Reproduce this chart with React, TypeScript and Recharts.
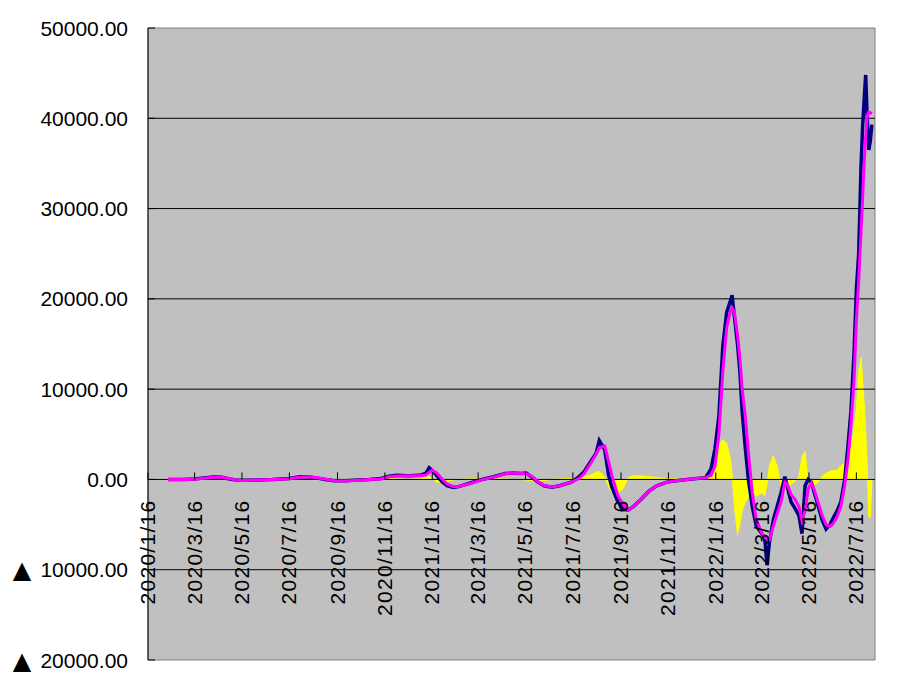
import React from 'react';
import { ComposedChart, Line, Area, XAxis, YAxis, ReferenceLine, ReferenceArea } from 'recharts';

// day offsets since 2020/1/16
const DAYS = [
  26, 45, 60, 75, 86, 95, 105, 115, 125, 140, 160, 182, 195, 205, 215, 228, 240, 255, 270, 285,
  300, 310, 320, 335, 350, 358, 362, 366, 372, 378, 385, 393, 400, 415, 430, 445, 460, 470, 480, 487,
  495, 502, 510, 520, 530, 545, 555, 562, 570, 577, 581, 588, 593, 597, 605, 612, 618, 625, 635, 645,
  655, 668, 685, 700, 718, 725, 730, 735, 740, 745, 750, 752, 755, 759, 762, 765, 769, 773, 778, 783,
  790, 794, 797, 800, 805, 810, 815, 820, 823, 828, 833, 838, 842, 846, 850, 854, 858, 863, 868, 873,
  878, 882, 887, 892, 897, 901, 905, 909, 912, 915, 918, 920, 922, 924, 926, 928, 930, 932,
];

const NAVY = [
  0, 0, 50, 200, 300, 250, 50, -100, -100, -50, 0, 100, 300, 300, 200, 0, -150, -150, -50, 0,
  100, 350, 450, 400, 450, 700, 1300, 1000, 400, -200, -700, -900, -800, -400, 0, 300, 650, 700, 650, 700,
  200, -300, -700, -850, -700, -300, 300, 900, 2000, 2900, 4300, 3300, 500, -800, -2500, -3300, -3400, -3000, -2200, -1300,
  -700, -300, -100, 50, 200, 1200, 3400, 7000, 14700, 18500, 19800, 20400, 18000, 15000, 12000, 7500, 3500, 0, -3000, -5100,
  -6000, -6500, -9500, -7000, -4500, -3000, -1500, 300, -800, -2500, -3200, -4000, -6000, -700, 0, -300, -1500, -3000, -4500, -5500,
  -5000, -4300, -3500, -2500, 0, 3500, 7500, 14000, 21000, 25000, 34600, 39000, 42000, 44800, 40000, 36500, 37500, 39300,
];

const MAGENTA = [
  0, 0, 30, 150, 280, 250, 100, -80, -120, -50, 0, 80, 250, 300, 220, 50, -150, -170, -80, 0,
  50, 300, 380, 400, 420, 500, 800, 1030, 700, 100, -500, -800, -780, -450, -50, 250, 620, 720, 660, 620,
  300, -250, -650, -830, -700, -300, 100, 700, 1800, 2800, 3500, 3700, 2000, 500, -1800, -2800, -3400, -3000, -2200, -1300,
  -700, -300, -100, 50, 200, 450, 1500, 5000, 11800, 16800, 18700, 19000, 18500, 16000, 13500, 10000, 7000, 3000, -1500, -4400,
  -5900, -6400, -6600, -6700, -5200, -3800, -2500, -300, -500, -1700, -2200, -3000, -4600, -3500, -1000, -400, -1200, -2600, -4000, -5000,
  -5200, -4900, -4200, -3000, -700, 2000, 6000, 11000, 17500, 22000, 27300, 31000, 35000, 38000, 40300, 40700, 40600, 40500,
];

const YELLOW = [
  0, 0, 0, 30, 50, 0, -30, -30, 0, 0, 0, 30, 50, 30, 0, -30, -30, 0, 0, 0,
  50, 100, 50, 0, 50, 200, 300, 100, -300, -350, -200, -50, 0, 50, 50, 50, 50, 0, 0, -50,
  -150, -200, -100, 0, 50, 100, 150, 300, 500, 800, 900, 300, -800, -1400, -1600, -1000, 200, 400, 400, 300,
  200, 100, 50, 0, 0, 500, 1500, 3800, 4400, 4000, 2300, 500, -3000, -6100, -5000, -3500, -2500, -2000, -1100, -1850,
  -1500, -1800, -500, 1500, 2600, 1500, -800, -1400, -1000, -500, -200, 300, 2500, 3100, -300, -500, -600, -300, 300, 700,
  900, 1000, 1000, 1500, 1800, 2000, 3500, 5500, 7700, 12000, 13500, 11000, 8500, 5500, 1500, -4200, -4200, 0,
];

const TICK_LABELS = [
  '2020/1/16', '2020/3/16', '2020/5/16', '2020/7/16', '2020/9/16', '2020/11/16',
  '2021/1/16', '2021/3/16', '2021/5/16', '2021/7/16', '2021/9/16', '2021/11/16',
  '2022/1/16', '2022/3/16', '2022/5/16', '2022/7/16',
];

const Y_TICKS = [-20000, -10000, 0, 10000, 20000, 30000, 40000, 50000];
const GRID_VALUES = [-10000, 10000, 20000, 30000, 40000];
const Y_MIN = -20000;
const Y_MAX = 50000;
const X_MAX = 936;

const START = Date.UTC(2020, 0, 16);
const toDay = (s: string) => {
  const [y, m, d] = s.split('/').map(Number);
  return Math.round((Date.UTC(y, m - 1, d) - START) / 86400000);
};
const TICK_DAYS = TICK_LABELS.map(toDay);

const DATA = DAYS.map((day, i) => ({ day, navy: NAVY[i], magenta: MAGENTA[i], yellow: YELLOW[i] }));

const W = 903;
const H = 692;
const MARGIN = { top: 28, right: 28, bottom: 31, left: 0 };
const YAXIS_W = 148;
const XAXIS_H = 1;
const PLOT_TOP = MARGIN.top;
const PLOT_BOTTOM = H - MARGIN.bottom - XAXIS_H;
const ZERO_Y = PLOT_TOP + ((PLOT_BOTTOM - PLOT_TOP) * (Y_MAX - 0)) / (Y_MAX - Y_MIN);

const FONT = '"Liberation Sans", Arial, sans-serif';

const XTick = (props: any) => {
  const { x, payload } = props;
  const idx = TICK_DAYS.indexOf(payload.value);
  const label = idx >= 0 ? TICK_LABELS[idx] : '';
  return (
    <g>
      <line x1={x} x2={x} y1={ZERO_Y} y2={ZERO_Y - 7} stroke="#000" strokeWidth={1} />
      <text
        transform={`translate(${x + 7},${ZERO_Y + 20}) rotate(-90)`}
        textAnchor="end"
        fontFamily={FONT}
        fontSize={21}
        letterSpacing={1.3}
        fill="#000"
      >
        {label}
      </text>
    </g>
  );
};

const YTick = (props: any) => {
  const { y, payload } = props;
  const v = payload.value as number;
  return (
    <g>
      <line x1={YAXIS_W} x2={YAXIS_W + 7} y1={y} y2={y} stroke="#000" strokeWidth={1} />
      {v < 0 && (
        <text
          x={YAXIS_W - 126}
          y={y}
          dy="0.36em"
          textAnchor="middle"
          fontFamily='"DejaVu Sans", sans-serif'
          fontSize={24}
          fill="#000"
        >
          ▲
        </text>
      )}
      <text
        x={YAXIS_W - 20}
        y={y}
        dy="0.36em"
        textAnchor="end"
        fontFamily={FONT}
        fontSize={21}
        fill="#000"
      >
        {Math.abs(v).toFixed(2)}
      </text>
    </g>
  );
};

export default function App() {
  return (
    <div style={{ position: 'absolute', left: 0, top: 0, width: W, height: H, background: '#fff' }}>
      <ComposedChart width={W} height={H} data={DATA} margin={MARGIN}>
        <XAxis
          dataKey="day"
          type="number"
          domain={[0, X_MAX]}
          ticks={TICK_DAYS}
          interval={0}
          height={XAXIS_H}
          axisLine={false}
          tickLine={false}
          tickSize={0}
          tick={(p: any) => <XTick {...p} />}
          allowDataOverflow
        />
        <YAxis
          type="number"
          domain={[Y_MIN, Y_MAX]}
          ticks={Y_TICKS}
          interval={0}
          width={YAXIS_W}
          axisLine={false}
          tickLine={false}
          tickSize={0}
          tick={(p: any) => <YTick {...p} />}
          allowDataOverflow
        />
        <ReferenceArea
          x1={0}
          x2={X_MAX}
          y1={Y_MIN}
          y2={Y_MAX}
          fill="#C0C0C0"
          fillOpacity={1}
          stroke="#808080"
          strokeWidth={1}
        />
        {GRID_VALUES.map((v) => (
          <ReferenceLine key={v} y={v} stroke="#000" strokeWidth={1} />
        ))}
        <ReferenceLine x={0} stroke="#000" strokeWidth={1} />
        <Area
          dataKey="yellow"
          type="linear"
          fill="#FFFF00"
          fillOpacity={1}
          stroke="#FFFF00"
          strokeWidth={1}
          baseValue={0}
          isAnimationActive={false}
          dot={false}
          activeDot={false}
        />
        <ReferenceLine y={0} stroke="#000" strokeWidth={1} />
        <Line
          dataKey="navy"
          type="linear"
          stroke="#000080"
          strokeWidth={3.5}
          dot={false}
          activeDot={false}
          isAnimationActive={false}
        />
        <Line
          dataKey="magenta"
          type="linear"
          stroke="#FF00FF"
          strokeWidth={3}
          dot={false}
          activeDot={false}
          isAnimationActive={false}
        />
      </ComposedChart>
    </div>
  );
}
